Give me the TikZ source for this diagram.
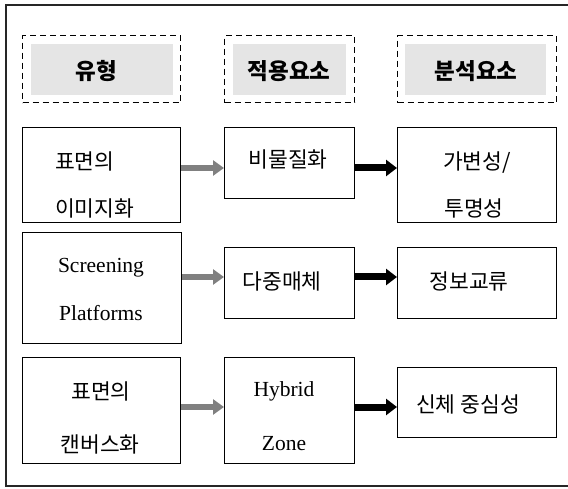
\documentclass[tikz,border=0pt]{standalone}
\usepackage{fontspec}
\setmainfont{Liberation Serif}
\newfontfamily\kr{Noto Sans CJK KR}
\usetikzlibrary{arrows.meta}
\definecolor{hdrgray}{HTML}{E5E5E5}
\definecolor{arrgray}{HTML}{808080}
\begin{document}
\begin{tikzpicture}[x=1pt,y=-1pt,
  box/.style={draw=black, line width=1.3pt, anchor=north west, inner sep=0pt},
  dbox/.style={draw=black, line width=1.4pt, dash pattern=on 6pt off 4pt, anchor=north west, inner sep=0pt},
  gbox/.style={fill=hdrgray, draw=none, anchor=north west, inner sep=0pt},
  krt/.style={font=\kr\fontsize{21.5}{21.5}\selectfont, inner sep=0pt, text height=17.2pt, text depth=1.5pt},
  hdr/.style={font=\kr\bfseries\fontsize{22.5}{22.5}\selectfont, inner sep=0pt, text height=18pt, text depth=1.6pt},
  lat/.style={font=\fontsize{21.5}{21.5}\selectfont, inner sep=0pt, text height=14.2pt, text depth=4.7pt},
  garrow/.style={draw=arrgray, line width=6pt, -{Triangle[length=11pt,width=15pt]}},
  barrow/.style={draw=black, line width=7pt, -{Triangle[length=11pt,width=16pt]}}
]
\useasboundingbox (0,0) rectangle (568,489);
% outer frame
\draw[line width=1.4pt, black!85] (580,5) -- (6,5) -- (6,486) -- (580,486);

% headers
\node[dbox, minimum width=158pt, minimum height=67pt] (hA) at (22,35) {};
\node[dbox, minimum width=130pt, minimum height=67pt] (hB) at (224,35) {};
\node[dbox, minimum width=159pt, minimum height=67pt] (hC) at (397,35) {};
\node[gbox, minimum width=142pt, minimum height=51pt] (gA) at (31,44) {};
\node[gbox, minimum width=113pt, minimum height=51pt] (gB) at (233,44) {};
\node[gbox, minimum width=141pt, minimum height=51pt] (gC) at (405,44) {};
\node[hdr] (tA) at (96,71) {유형};
\node[hdr] (tB) at (289,71) {적용요소};
\node[hdr] (tC) at (476,71) {분석요소};

% row 1
\node[box, minimum width=158pt, minimum height=95pt] (r1a) at (22,127) {};
\node[box, minimum width=130pt, minimum height=71pt] (r1b) at (224,127) {};
\node[box, minimum width=159pt, minimum height=95pt] (r1c) at (397,127) {};
\node[krt, anchor=west] (t1a1) at (55,162) {표면의};
\node[krt, anchor=west] (t1a2) at (55,209) {이미지화};
\node[krt] (t1b) at (288,160) {비물질화};
\node[krt] (t1c1) at (477,162) {가변성/};
\node[krt] (t1c2) at (474,209) {투명성};

% row 2
\node[box, minimum width=159pt, minimum height=111pt] (r2a) at (22,232) {};
\node[box, minimum width=130pt, minimum height=71pt] (r2b) at (224,247) {};
\node[box, minimum width=159pt, minimum height=71pt] (r2c) at (397,247) {};
\node[lat] (t2a1) at (101,268) {Screening};
\node[lat] (t2a2) at (101,316) {Platforms};
\node[krt] (t2b) at (282,282) {다중매체};
\node[krt] (t2c) at (469,282) {정보교류};

% row 3
\node[box, minimum width=158pt, minimum height=106pt] (r3a) at (22,357) {};
\node[box, minimum width=130pt, minimum height=106pt] (r3b) at (224,357) {};
\node[box, minimum width=159pt, minimum height=70pt] (r3c) at (397,367) {};
\node[krt] (t3a1) at (101,392) {표면의};
\node[krt] (t3a2) at (100,445) {캔버스화};
\node[lat] (t3b1) at (284,392) {Hybrid};
\node[lat] (t3b2) at (284,446) {Zone};
\node[krt] (t3c) at (468,405) {신체 중심성};

% arrows
\draw[garrow] (r1a.east |- 0,168) -- (r1b.west |- 0,168);
\draw[barrow] (r1b.east |- 0,168) -- (r1c.west |- 0,168);
\draw[garrow] (r2a.east |- 0,277) -- (r2b.west |- 0,277);
\draw[barrow] (r2b.east |- 0,277) -- (r2c.west |- 0,277);
\draw[garrow] (r3a.east |- 0,407) -- (r3b.west |- 0,407);
\draw[barrow] (r3b.east |- 0,407) -- (r3c.west |- 0,407);
\end{tikzpicture}
\end{document}
